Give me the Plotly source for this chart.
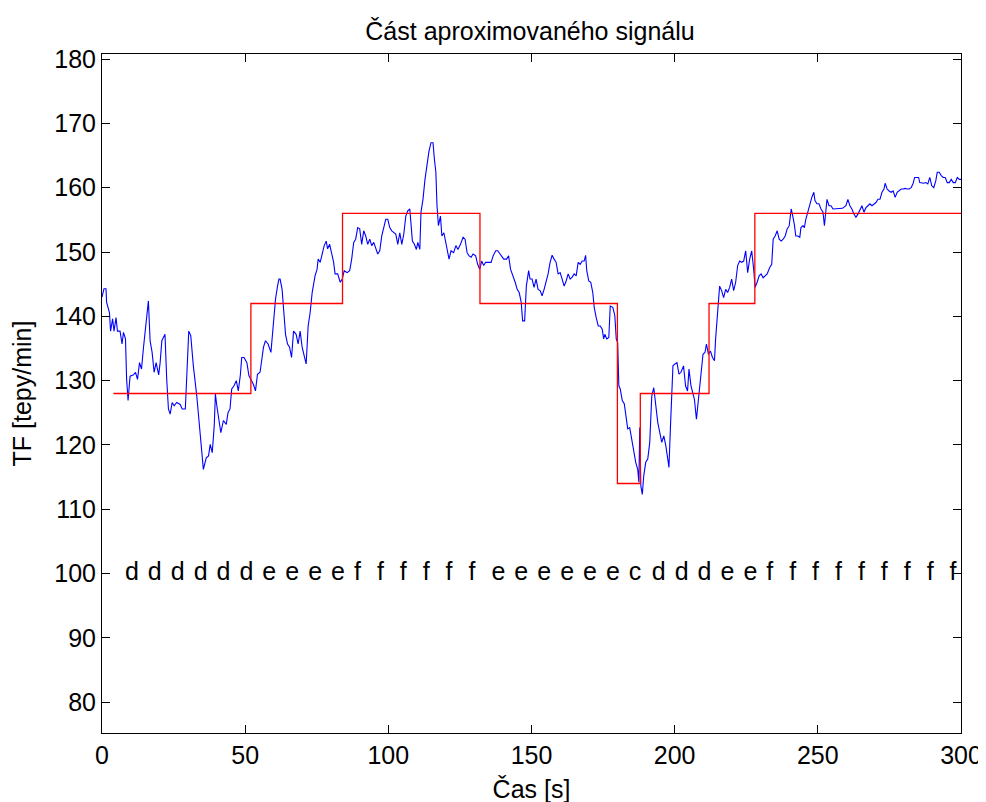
import plotly.graph_objects as go

# ---- data ----
t_s = [0.0, 0.7, 1.4, 1.6, 2.6, 3.0, 3.7, 4.2, 4.9, 5.4, 6.3, 7.0, 7.5, 8.2, 8.6, 9.1, 9.8, 11.0, 11.7, 12.4,
       13.1, 13.8, 14.5, 15.0, 15.6, 16.2, 16.8, 17.5, 18.2, 18.9, 19.8, 20.3, 20.9, 22.0, 22.6, 23.2, 23.8, 24.5,
       25.2, 26.1, 27.3, 28.0, 29.1, 29.8, 30.3, 31.0, 31.9, 33.1, 34.0, 34.7, 35.4, 36.4, 37.2, 37.8, 38.5, 39.2,
       39.6, 40.1, 40.8, 41.5, 42.4, 43.4, 44.0, 44.7, 45.3, 46.1, 46.9, 47.6, 48.3, 48.8, 49.6, 50.6, 51.3, 52.0,
       52.9, 53.6, 54.3, 55.2, 56.4, 57.1, 58.0, 59.0, 59.9, 60.6, 61.3, 61.8, 62.2, 62.9, 63.6, 64.1, 64.8, 65.5,
       66.2, 66.9, 67.8, 68.5, 69.2, 69.9, 70.6, 71.3, 72.0, 72.7, 73.4, 74.4, 75.1, 75.5,
       76.2, 76.9, 77.6, 78.3, 78.8, 79.5, 80.2, 80.9, 81.4, 82.3, 83.2, 83.9, 84.6, 85.6, 86.5, 87.2, 87.9, 88.6,
       89.3, 90.0, 90.7, 91.4, 92.1, 92.8, 93.5, 94.2, 94.9, 95.6, 96.3, 97.0, 97.7, 98.4, 99.1, 99.8, 100.5,
       101.2, 101.9, 102.6, 103.3, 104.0, 104.7, 105.4, 106.1, 106.8, 107.5, 107.9, 108.4, 109.1, 109.8, 110.3,
       111.0, 111.4, 112.1, 112.8, 113.5, 114.2, 114.9, 115.6, 116.1, 116.6, 117.0, 117.5, 118.2, 118.7, 119.4,
       120.1, 120.5, 121.2, 121.9, 122.8, 123.6, 124.3, 125.2, 126.1, 126.8, 127.5, 128.2, 128.9, 129.6, 130.5,
       131.2, 131.9, 132.6, 133.3, 134.0, 135.0, 135.9, 136.6, 137.5, 138.2, 138.9, 139.6, 140.3, 141.3, 142.0,
       142.7, 143.6, 144.3, 145.0, 145.7, 146.4, 146.9, 147.6, 148.2, 149.0,
       149.5, 150.2, 150.9, 151.6, 152.3, 153.0, 153.7, 154.4, 155.1, 155.8, 156.5, 157.2, 157.9, 158.6, 159.3,
       160.0, 160.7, 161.4, 162.1, 162.8, 163.5, 164.2, 164.9, 165.6, 166.3, 167.0, 167.7, 168.4, 168.9, 169.3,
       170.0, 170.7, 171.4, 171.9, 172.6, 173.3, 174.0, 174.7, 175.2, 175.6, 176.3, 177.0, 177.5, 178.4, 179.1,
       179.6, 180.1, 180.5, 181.0, 181.7, 182.4, 182.9, 183.6, 184.3, 185.0, 185.7, 186.4, 187.1, 187.5, 187.8,
       188.2, 188.7, 189.2, 189.9, 190.6, 191.3, 192.0, 192.7, 193.4, 194.1, 194.8, 195.5, 196.2, 196.9, 197.6,
       198.0, 198.5, 199.0, 199.4, 200.1, 200.8, 201.5, 202.2, 203.1, 203.8, 204.5, 205.0, 205.7, 206.4, 206.9,
       207.6, 208.0, 208.5, 209.2, 209.9, 210.6, 211.1, 211.8, 212.5, 213.2, 213.9, 214.3, 215.0, 215.7, 216.4,
       217.1, 217.8, 218.5, 219.2, 219.9, 220.6, 221.3, 222.0, 222.7, 223.4, 224.1,
       224.8, 225.5, 226.2, 226.9, 227.6, 228.1, 228.8, 229.5, 230.2, 230.9, 231.6, 232.3, 233.2, 233.9, 234.4,
       235.1, 235.8, 236.5, 237.2, 237.9, 238.6, 239.3, 240.0, 240.7, 241.1, 241.8, 242.3, 243.0, 243.7, 244.1,
       244.8, 245.3, 245.8, 246.5, 247.2, 247.9, 248.6, 249.0, 249.7, 250.4, 251.1, 251.8, 252.3, 252.8, 253.2,
       253.9, 254.6, 255.3, 256.3, 257.4, 258.6, 259.8, 260.5, 261.2, 261.9, 262.6, 263.3, 264.0, 264.7, 265.4,
       266.1, 266.8, 267.5, 268.2, 268.9, 269.6, 270.3, 271.0, 271.7, 272.4, 273.1, 273.5, 274.2, 274.9, 275.6,
       276.3, 277.0, 277.7, 278.4, 279.1, 279.8, 280.5, 281.2, 281.9, 282.6, 283.3, 283.8, 284.5, 285.2, 285.6,
       286.3, 287.0, 287.7, 288.4, 289.1, 289.8, 290.5, 291.2, 291.7, 292.4, 293.1, 293.8, 294.5, 295.2, 295.9,
       296.6, 297.3, 298.0, 298.7, 299.4, 300.0]

hr = [143.0, 144.3, 144.3, 142.2, 140.6, 137.7, 139.6, 137.7, 139.8, 137.7, 137.7, 135.7, 137.5, 136.5, 130.2,
      126.9, 130.7, 130.9, 131.3, 130.2, 132.8, 131.8, 135.2, 137.7, 140.6, 142.4, 136.2, 134.4, 131.3, 132.8,
      130.9, 132.8, 136.2, 137.2, 130.2, 125.6, 124.8, 126.6, 126.1, 126.6, 126.3, 125.6, 125.6, 134.4, 137.7,
      137.0, 132.3, 127.6, 123.5, 119.3, 116.2, 118.0, 118.3, 120.1, 118.8, 123.0, 127.9, 126.1, 124.0, 121.9,
      123.8, 123.2, 125.0, 125.6, 128.7, 129.2, 130.0, 128.4, 130.8, 133.6, 133.6, 132.8, 130.8, 130.2, 129.4,
      128.4, 131.0, 131.3, 135.2, 136.2, 135.7, 134.4, 139.6, 142.7, 144.7, 145.8, 145.8, 144.2, 140.1, 137.2,
      135.7, 135.2, 133.6, 137.7, 137.2, 135.7, 137.7, 135.2, 133.9, 132.6, 138.5, 140.6, 143.7, 146.3, 147.3,
      148.9,
      148.4, 149.9, 151.0, 151.7, 150.5, 151.2, 149.9, 148.4, 146.6, 146.6, 145.3, 145.8, 147.1, 146.8, 147.1,
      148.9, 151.5, 152.0, 153.8, 153.6, 151.2, 153.3, 152.5, 151.2, 152.0, 151.0, 151.5, 150.7, 149.7, 150.2,
      152.5, 153.8, 155.1, 155.1, 153.8, 153.3, 153.0, 152.8, 151.2, 153.0, 151.2, 152.8, 155.6, 156.4, 156.7,
      153.6, 151.7, 151.2, 150.4, 151.5, 150.4, 156.2, 158.2, 161.3, 163.9, 165.7, 167.0, 167.0, 164.4, 162.4,
      157.2, 154.1, 155.6, 152.5, 153.0, 151.5, 150.7, 148.9, 150.2, 149.9, 151.0, 150.4, 151.2, 152.3, 152.0,
      149.9, 149.4, 149.2, 149.7, 149.4, 148.1, 147.3, 148.6, 147.9, 148.4, 148.4, 148.4, 149.4, 150.2, 150.2,
      149.7, 149.2, 148.9, 148.9, 149.4, 147.3, 146.3, 145.3, 144.2, 143.7, 142.2, 139.3, 139.3, 144.7, 147.1,
      145.8, 145.8, 144.5, 145.8, 144.2, 144.0, 143.2, 144.2, 145.3, 146.6, 148.4, 149.5, 148.9, 148.4, 146.6,
      146.8, 145.8, 144.7, 145.5, 146.6, 145.8, 146.1, 146.6, 146.3, 148.4, 148.1, 148.6, 148.6, 149.5, 147.1,
      145.5, 145.3, 143.7, 141.4, 139.8, 138.5, 138.5, 138.0, 136.5, 137.2, 136.5, 136.7, 141.6, 141.4, 140.1,
      136.5, 135.9, 129.2, 128.7, 126.9, 126.4, 124.5, 122.5, 122.7, 120.9, 119.4, 117.3, 116.2, 114.2, 122.7,
      113.6, 112.3, 115.2, 117.3, 117.8, 120.4, 127.6, 128.9, 125.6, 123.5, 121.9, 120.4, 121.4, 119.9, 117.8,
      116.5, 122.5, 127.6, 132.3, 132.6, 132.8, 131.0, 131.3, 132.3, 129.2, 128.4, 131.8, 129.2, 128.2, 127.1,
      124.0, 125.8, 127.1, 131.3, 134.1, 134.4, 135.7, 134.1, 134.6, 133.6, 133.1, 136.5, 140.3, 144.7, 144.0,
      142.9, 144.2, 143.7, 144.5, 145.8, 144.0, 145.3, 147.9, 148.6, 148.4, 148.6,
      150.2, 146.8, 148.9, 150.2, 147.3, 144.5, 145.3, 146.3, 146.6, 146.0, 146.3, 146.6, 147.6, 148.1, 152.0,
      152.5, 153.3, 152.0, 151.7, 152.0, 152.5, 153.6, 154.1, 156.7, 155.9, 154.3, 152.5, 152.5, 152.3, 153.8,
      154.1, 153.8, 155.1, 156.2, 157.7, 158.5, 159.3, 158.0, 157.5, 157.5, 156.7, 156.2, 154.1, 155.9, 158.2,
      157.2, 157.2, 156.7, 156.7, 156.7, 156.8, 157.2, 158.2, 157.2, 156.7, 155.9, 155.4, 155.9, 156.7, 157.2,
      156.2, 156.9, 157.2, 157.5, 157.2, 157.5, 157.7, 158.2, 158.2, 159.3, 159.8, 160.7, 159.8, 159.5, 159.3,
      159.5, 158.5, 159.3, 159.5, 159.8, 159.8, 159.9, 159.8, 159.8, 160.0, 160.7, 161.6, 161.6, 161.6, 160.8,
      160.7, 160.7, 160.8, 160.6, 161.6, 160.3, 160.0, 161.1, 162.4, 162.4, 161.9, 161.6, 161.6, 160.8, 160.8,
      161.3, 160.8, 160.8, 161.6, 161.3, 161.3]

# symbolic approximation: one letter per 8 s segment starting at 4 s
letters = list("dddddd" "eeee" "ffffff" "eeeeee" "c" "ddd" "ee" "fffffffff")
levels = {"c": 114, "d": 128, "e": 142, "f": 156}
seg_start = 4
seg_len = 8
letter_row_value = 100

x_ticks = [0, 50, 100, 150, 200, 250, 300]
y_ticks = [80, 90, 100, 110, 120, 130, 140, 150, 160, 170, 180]

# ---- derived ----
edges = [seg_start + seg_len * k for k in range(len(letters) + 1)]
step_vals = [levels[c] for c in letters] + [levels[letters[-1]]]
letter_x = [seg_start + seg_len * k + seg_len / 2 for k in range(len(letters))]
letter_y = [letter_row_value] * len(letters)

FONT = "Liberation Sans, Arial, sans-serif"
FS = 25

fig = go.Figure()
fig.add_trace(go.Scatter(x=t_s, y=hr, mode="lines",
                         line=dict(color="#0000FF", width=1.1), showlegend=False))
fig.add_trace(go.Scatter(x=edges, y=step_vals, mode="lines", line_shape="hv",
                         line=dict(color="#FF0000", width=1.3), showlegend=False))
fig.add_trace(go.Scatter(x=letter_x, y=letter_y, mode="text", text=letters,
                         textposition="middle right",
                         textfont=dict(family=FONT, size=FS, color="black"),
                         showlegend=False))

axis_common = dict(showline=True, linecolor="black", linewidth=1, mirror="ticks",
                   ticks="inside", ticklen=8, tickcolor="black", tickwidth=1,
                   showgrid=False, zeroline=False, automargin=False,
                   tickfont=dict(family=FONT, size=FS, color="black"))

fig.update_xaxes(range=[0, 300], tickvals=x_ticks,
                 title=dict(text="Čas [s]", font=dict(family=FONT, size=FS, color="black"), standoff=12),
                 **axis_common)
fig.update_yaxes(range=[75.2, 180.8], tickvals=y_ticks,
                 title=dict(text="TF [tepy/min]", font=dict(family=FONT, size=FS, color="black"), standoff=22),
                 **axis_common)

fig.update_layout(
    width=986, height=802,
    margin=dict(l=94, r=33, t=46, b=77, autoexpand=False),
    paper_bgcolor="white", plot_bgcolor="white",
    title=dict(text="Část aproximovaného signálu", x=522 / 986, xanchor="center",
               y=1 - 23 / 802, yanchor="middle",
               font=dict(family=FONT, size=FS, color="black")),
)

fig.write_html("out.html")
